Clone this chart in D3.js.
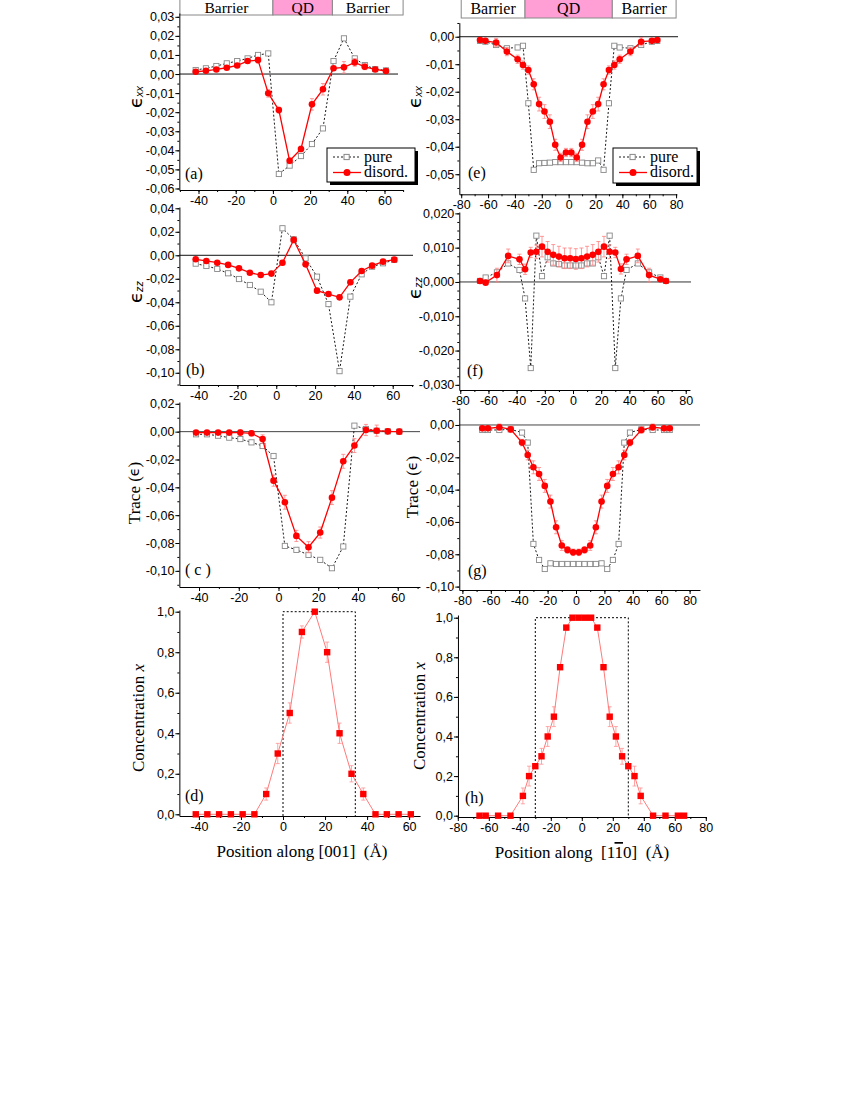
<!DOCTYPE html>
<html><head><meta charset="utf-8">
<script src="https://cdn.jsdelivr.net/npm/d3@7"></script>
<style>body{margin:0;background:#fff} svg{display:block}</style>
</head><body><svg id="c" width="850" height="1100"></svg>
<script>
// ---------- DATA ----------
const pos001 = [-41.5,-36,-30.4,-24.8,-19.2,-13.6,-8,-2.5,3.2,9,15.1,21,26.9,32.6,38.2,44,49.4,55,60.8];
const pos110 = [-66,-62,-54,-46,-38,-34,-30,-26,-22,-18,-14,-10,-6,-2,2,6,10,14,18,22,26,30,34,38,46,54,62,66];

// (a) eps_xx along [001]
const exxPure001 = [0.0021,0.003,0.0042,0.0056,0.0068,0.0082,0.010,0.0108,-0.0524,-0.048,-0.043,-0.0367,-0.0285,0.0068,0.0187,0.0082,0.0047,0.0026,0.0019];
const exxDis001  = [0.0012,0.0017,0.0024,0.0033,0.0045,0.0068,0.0073,-0.0101,-0.0189,-0.0455,-0.0393,-0.0159,-0.008,0.003,0.0035,0.0061,0.0038,0.0024,0.0016];
const exxErr001  = [0.0005,0.0005,0.0005,0.0008,0.0008,0.001,0.0015,0.002,0.0015,0.0015,0.0015,0.003,0.003,0.001,0.003,0.002,0.0015,0.001,0.0008];
// (b) eps_zz along [001]
const ezzPure001 = [-0.0071,-0.0091,-0.0116,-0.0153,-0.0202,-0.0253,-0.031,-0.04,0.023,0.0136,-0.0026,-0.0182,-0.0415,-0.0986,-0.0352,-0.0162,-0.0097,-0.0068,-0.004];
const ezzDis001  = [-0.0034,-0.0048,-0.0063,-0.0082,-0.0111,-0.0148,-0.0168,-0.0156,-0.0063,0.0131,-0.0077,-0.0301,-0.033,-0.0358,-0.023,-0.0134,-0.0088,-0.0054,-0.0037];
const ezzErr001  = [0.001,0.001,0.001,0.001,0.001,0.001,0.0015,0.002,0.002,0.002,0.002,0.002,0.002,0.002,0.002,0.0015,0.001,0.001,0.001];
// (c) trace along [001]
const trPure001 = [-0.0019,-0.0019,-0.0029,-0.0043,-0.0053,-0.0077,-0.0103,-0.0175,-0.0821,-0.0849,-0.0885,-0.0921,-0.0981,-0.0825,0.0043,0.0019,0.0007,0.0002,0];
const trDis001  = [-0.0007,-0.0007,-0.0007,-0.0007,-0.0007,-0.0012,-0.0053,-0.0352,-0.0507,-0.0749,-0.083,-0.0725,-0.0474,-0.0213,-0.01,0.0012,0.0007,0.0002,0];
const trErr001  = [0.001,0.001,0.001,0.001,0.002,0.002,0.003,0.004,0.005,0.004,0.004,0.004,0.005,0.005,0.005,0.004,0.004,0.002,0.002];
// (d) concentration along [001]
const conc001    = [0,0,0,0,0,0,0.1,0.3,0.5,0.9,1.0,0.8,0.4,0.2,0.1,0,0,0,0];
const concErr001 = [0,0,0,0,0,0,0.03,0.05,0.05,0.03,0,0.05,0.05,0.04,0.03,0,0,0,0];
const qd001 = [0, 34.4];

// (e) eps_xx along [1-10]
const exxPure110 = [-0.0015,-0.0018,-0.003,-0.0042,-0.0039,-0.0033,-0.0242,-0.0484,-0.046,-0.0459,-0.0458,-0.0456,-0.0456,-0.0456,-0.0456,-0.0456,-0.0458,-0.046,-0.046,-0.045,-0.0484,-0.0242,-0.0033,-0.0039,-0.0042,-0.003,-0.0018,-0.0015];
const exxDis110  = [-0.0012,-0.0015,-0.0021,-0.0054,-0.0082,-0.0103,-0.0121,-0.0173,-0.0245,-0.0272,-0.0309,-0.0393,-0.0439,-0.0421,-0.0421,-0.0439,-0.0393,-0.0309,-0.0272,-0.0245,-0.0173,-0.0121,-0.0103,-0.0082,-0.0054,-0.0018,-0.0015,-0.0012];
const exxErr110  = [0.0005,0.0005,0.0015,0.0015,0.0015,0.0015,0.0015,0.002,0.0025,0.0025,0.0025,0.002,0.0015,0.0015,0.0015,0.0015,0.002,0.0025,0.0025,0.0025,0.002,0.0015,0.0015,0.0015,0.0015,0.0015,0.0005,0.0005];
// (f) eps_zz along [1-10]
const ezzPure110 = [0.0003,0.0013,0.0028,0.0054,0.0035,-0.0048,-0.0251,0.0135,0.0017,0.0072,0.0054,0.0052,0.0048,0.0048,0.0048,0.0048,0.0054,0.0054,0.0072,0.0017,0.0135,-0.0251,-0.0048,0.0035,0.0054,0.0028,0.0013,0.0003];
const ezzDis110  = [0.0003,-0.0002,0.002,0.0076,0.0066,0.0037,0.0086,0.0088,0.0103,0.0088,0.0079,0.0074,0.0069,0.0069,0.0067,0.0069,0.0074,0.0079,0.0088,0.0103,0.0088,0.0086,0.0038,0.0066,0.0076,0.002,0.0008,0.0003];
const ezzErr110  = [0.0005,0.0005,0.002,0.002,0.0015,0.0015,0.0015,0.002,0.003,0.003,0.003,0.003,0.003,0.003,0.003,0.003,0.003,0.003,0.003,0.003,0.002,0.0015,0.0015,0.0015,0.002,0.002,0.0005,0.0005];
// (g) trace along [1-10]
const trPure110 = [-0.0031,-0.0031,-0.0031,-0.0027,-0.0047,-0.0109,-0.0736,-0.0835,-0.0891,-0.0856,-0.086,-0.086,-0.086,-0.086,-0.086,-0.086,-0.086,-0.086,-0.0856,-0.0891,-0.0835,-0.0736,-0.0109,-0.0047,-0.0027,-0.0031,-0.0031,-0.0031];
const trDis110  = [-0.0021,-0.0021,-0.0014,-0.0027,-0.0109,-0.0186,-0.0262,-0.0303,-0.0377,-0.0474,-0.0633,-0.0746,-0.0773,-0.0788,-0.0788,-0.0773,-0.0746,-0.0633,-0.0474,-0.0377,-0.0303,-0.0262,-0.0186,-0.0109,-0.0031,-0.0014,-0.0021,-0.0021];
const trErr110  = [0.001,0.001,0.002,0.002,0.002,0.003,0.004,0.004,0.004,0.004,0.004,0.003,0.002,0.002,0.002,0.002,0.003,0.004,0.004,0.004,0.004,0.004,0.003,0.002,0.002,0.002,0.001,0.001];
// (h) concentration along [1-10]
const conc110    = [0,0,0,0,0.1,0.2,0.25,0.3,0.4,0.5,0.75,0.95,1,1,1,1,0.95,0.75,0.5,0.4,0.3,0.25,0.2,0.1,0,0,0,0];
const concErr110 = [0,0,0,0,0.04,0.05,0,0.04,0.05,0.05,0,0,0,0,0,0,0,0,0.05,0.05,0.04,0,0.05,0.04,0,0,0,0];
const qd110 = [-30, 30];

// ticks
const xTicks001 = [-40,-20,0,20,40,60];
const xTicks110 = [-80,-60,-40,-20,0,20,40,60,80];
const yTicksA = [0.03,0.02,0.01,0,-0.01,-0.02,-0.03,-0.04,-0.05,-0.06];
const yTicksB = [0.04,0.02,0,-0.02,-0.04,-0.06,-0.08,-0.10];
const yTicksC = [0.02,0,-0.02,-0.04,-0.06,-0.08,-0.10];
const yTicksD = [1.0,0.8,0.6,0.4,0.2,0.0];
const yTicksE = [0,-0.01,-0.02,-0.03,-0.04,-0.05];
const yTicksF = [0.02,0.01,0,-0.01,-0.02,-0.03];
const yTicksG = [0,-0.02,-0.04,-0.06,-0.08,-0.10];
const yTicksH = [1.0,0.8,0.6,0.4,0.2,0.0];

const headerLabels = ['Barrier','QD','Barrier'];
const headerA = [-50, 0, 32, 70];
const headerE = [-80, -32.5, 32.5, 80];
const legendLabels = ['pure','disord.'];

// ---------- DRAW ----------
const svg = d3.select('#c');
svg.append('rect').attr('width',850).attr('height',1100).attr('fill','#fff');
const SANS = "'Liberation Sans', Arial, sans-serif";
const SERIF = "'Liberation Serif', 'Times New Roman', serif";
const fmtX = d => (d < 0 ? '-' : '') + Math.abs(d);
const fmtY = n => d => (d < 0 ? '-' : '') + Math.abs(d).toFixed(n).replace('.', ',');
const steps = (a, b, s) => { const n = Math.round((b - a) / s); return d3.range(n + 1).map(i => a + i * s); };

function drawPanel(p) {
  const g = svg.append('g');
  const x = d3.scaleLinear().domain(p.xDom).range(p.xDom.map(d => p.x0 + p.k * d));
  const y = d3.scaleLinear().domain(p.yDom).range(p.yRange);
  const [xl, xr] = x.range();
  const yb = p.yRange[0], yt = p.yRange[1];

  // header
  if (p.header) {
    const h = p.header;
    for (let i = 0; i < 3; i++) {
      g.append('rect').attr('x', x(h.bounds[i])).attr('y', -2)
        .attr('width', x(h.bounds[i+1]) - x(h.bounds[i])).attr('height', h.h + 2)
        .attr('fill', i === 1 ? '#ff9fd6' : '#fff').attr('stroke', '#888').attr('stroke-width', 1);
      g.append('text').attr('x', (x(h.bounds[i]) + x(h.bounds[i+1])) / 2).attr('y', h.base)
        .attr('text-anchor', 'middle').attr('font-family', SERIF).attr('font-size', h.fs)
        .text(headerLabels[i]);
    }
  }

  // zero line
  if (p.zeroEnd) g.append('line').attr('x1', xl).attr('x2', p.zeroEnd).attr('y1', y(0)).attr('y2', y(0))
    .attr('stroke', p.zeroColor || '#111').attr('stroke-width', 1);

  // axes
  const ax = g.append('g').attr('transform', `translate(0,${yb})`)
    .call(d3.axisBottom(x).tickValues(p.xTicks).tickSize(4).tickSizeOuter(0).tickPadding(2).tickFormat(fmtX));
  ax.append('g').call(d3.axisBottom(x).tickValues(steps(p.xMinor[0], p.xMinor[1], p.xMinor[2])).tickSize(2).tickFormat(''))
    .select('.domain').remove();
  const ay = g.append('g').attr('transform', `translate(${xl},0)`)
    .call(d3.axisLeft(y).tickValues(p.yTicks).tickSize(4).tickSizeOuter(0).tickPadding(1).tickFormat(fmtY(p.yDig)));
  ay.append('g').call(d3.axisLeft(y).tickValues(steps(p.yMinor[0], p.yMinor[1], p.yMinor[2])).tickSize(2).tickFormat(''))
    .select('.domain').remove();
  [ax, ay].forEach(a => {
    a.attr('font-family', SANS).attr('font-size', 12.5);
    a.selectAll('line, path').attr('stroke', '#000');
    a.selectAll('text').attr('fill', '#000');
  });

  // y title
  const tt = g.append('text').attr('transform', `translate(${p.yTitle.x},${p.yTitle.y}) rotate(-90)`)
    .attr('text-anchor', 'middle').attr('font-family', SERIF).attr('font-size', 17).attr('dominant-baseline', 'central');
  if (p.yTitle.kind === 'eps') {
    tt.append('tspan').attr('font-family', "'DejaVu Sans', sans-serif").attr('font-size', 18).text('\u03F5');
    tt.append('tspan').attr('font-family', SANS).attr('font-style', 'italic').attr('font-size', 11).attr('dy', 4).text(p.yTitle.sub);
  } else if (p.yTitle.kind === 'trace') {
    tt.append('tspan').text('Trace (');
    tt.append('tspan').attr('font-family', "'DejaVu Sans', sans-serif").attr('font-size', 14).text('\u03F5');
    tt.append('tspan').text(')');
  } else {
    tt.append('tspan').text('Concentration ');
    tt.append('tspan').attr('font-style', 'italic').text('x');
  }

  // panel letter
  g.append('text').attr('x', p.letter.x).attr('y', p.letter.y).attr('font-family', SERIF).attr('font-size', 16).text(p.letter.t);

  const pts = p.pos.map((d, i) => i);
  if (p.kind === 'strain') {
    // pure
    g.append('path').attr('d', d3.line().x(i => x(p.pos[i])).y(i => y(p.pure[i]))(pts))
      .attr('fill', 'none').attr('stroke', '#000').attr('stroke-width', 0.9).attr('stroke-dasharray', '2,2');
    g.selectAll(null).data(pts).enter().append('rect')
      .attr('x', i => x(p.pos[i]) - 2.6).attr('y', i => y(p.pure[i]) - 2.6).attr('width', 5.2).attr('height', 5.2)
      .attr('fill', '#fff').attr('stroke', '#888').attr('stroke-width', 0.9);
    // error bars
    const eb = g.append('g').attr('stroke', '#ff7f7f').attr('stroke-width', 0.8);
    pts.forEach(i => {
      const cx = x(p.pos[i]), y1 = y(p.dis[i] + p.err[i]), y2 = y(p.dis[i] - p.err[i]);
      eb.append('line').attr('x1', cx).attr('x2', cx).attr('y1', y1).attr('y2', y2);
      eb.append('line').attr('x1', cx - 2).attr('x2', cx + 2).attr('y1', y1).attr('y2', y1);
      eb.append('line').attr('x1', cx - 2).attr('x2', cx + 2).attr('y1', y2).attr('y2', y2);
    });
    g.append('path').attr('d', d3.line().x(i => x(p.pos[i])).y(i => y(p.dis[i]))(pts))
      .attr('fill', 'none').attr('stroke', '#ff0000').attr('stroke-width', 1.3);
    g.selectAll(null).data(pts).enter().append('circle')
      .attr('cx', i => x(p.pos[i])).attr('cy', i => y(p.dis[i])).attr('r', 3.3).attr('fill', '#ff0000');
  } else {
    // QD box
    g.append('path').attr('d', `M${x(p.qd[0])},${yb}V${y(1.0)}H${x(p.qd[1])}V${yb}`)
      .attr('fill', 'none').attr('stroke', '#000').attr('stroke-width', 1).attr('stroke-dasharray', '2,2');
    const eb = g.append('g').attr('stroke', '#ff9090').attr('stroke-width', 0.8);
    pts.forEach(i => {
      if (!p.err[i]) return;
      const cx = x(p.pos[i]), y1 = y(p.conc[i] + p.err[i]), y2 = y(p.conc[i] - p.err[i]);
      eb.append('line').attr('x1', cx).attr('x2', cx).attr('y1', y1).attr('y2', y2);
      eb.append('line').attr('x1', cx - 2).attr('x2', cx + 2).attr('y1', y1).attr('y2', y1);
      eb.append('line').attr('x1', cx - 2).attr('x2', cx + 2).attr('y1', y2).attr('y2', y2);
    });
    g.append('path').attr('d', d3.line().x(i => x(p.pos[i])).y(i => y(p.conc[i]))(pts))
      .attr('fill', 'none').attr('stroke', '#ff7a7a').attr('stroke-width', 1);
    g.selectAll(null).data(pts).enter().append('rect')
      .attr('x', i => x(p.pos[i]) - 3.2).attr('y', i => y(p.conc[i]) - 3.2).attr('width', 6.4).attr('height', 6.4)
      .attr('fill', '#ff0000');
    // x title
    const xt = g.append('text').attr('x', p.xTitle.x).attr('y', p.xTitle.y).attr('text-anchor', 'middle')
      .attr('font-family', SERIF).attr('font-size', 17).attr('xml:space', 'preserve');
    if (p.xTitle.kind === '001') {
      xt.text('Position along [001]  (\u00C5)');
    } else {
      xt.append('tspan').text('Position along  [1');
      xt.append('tspan').attr('text-decoration', 'overline').style('text-decoration', 'overline').text('1');
      xt.append('tspan').text('0]  (\u00C5)');
    }
  }

  // legend
  if (p.legend) {
    const L = p.legend;
    g.append('rect').attr('x', L.x + 3).attr('y', L.y + 3).attr('width', L.w).attr('height', L.h).attr('fill', '#000');
    g.append('rect').attr('x', L.x).attr('y', L.y).attr('width', L.w).attr('height', L.h).attr('fill', '#fff').attr('stroke', '#000').attr('stroke-width', 1);
    const r1 = L.y + 9, r2 = L.y + 24.5;
    g.append('line').attr('x1', L.x + 6).attr('x2', L.x + 34).attr('y1', r1).attr('y2', r1)
      .attr('stroke', '#000').attr('stroke-dasharray', '2,2').attr('stroke-width', 0.9);
    g.append('rect').attr('x', L.x + 17).attr('y', r1 - 2.6).attr('width', 5.2).attr('height', 5.2).attr('fill', '#fff').attr('stroke', '#888');
    g.append('line').attr('x1', L.x + 6).attr('x2', L.x + 34).attr('y1', r2).attr('y2', r2).attr('stroke', '#f00').attr('stroke-width', 1.3);
    g.append('circle').attr('cx', L.x + 20).attr('cy', r2).attr('r', 3.5).attr('fill', '#f00');
    [r1, r2].forEach((ry, i) => g.append('text').attr('x', L.x + 37).attr('y', ry + 4.5)
      .attr('font-family', SERIF).attr('font-size', 16).text(legendLabels[i]));
  }
}

const panels = [
  { kind:'strain', pos:pos001, pure:exxPure001, dis:exxDis001, err:exxErr001,
    x0:272.9, k:1.86, xDom:[-50.3,70], xTicks:xTicks001, xMinor:[-50,70,10],
    yDom:[-0.0608,0.032], yRange:[190,13], yTicks:yTicksA, yDig:2, yMinor:[-0.06,0.03,0.005],
    zeroEnd:398, yTitle:{kind:'eps', sub:'xx', x:135, y:97}, letter:{t:'(a)', x:185, y:179},
    header:{bounds:headerA, h:15, base:12.5, fs:15.5}, legend:{x:327, y:148, w:88, h:34} },
  { kind:'strain', pos:pos001, pure:ezzPure001, dis:ezzDis001, err:ezzErr001,
    x0:276.25, k:1.941, xDom:[-49.9,70.5], xTicks:xTicks001, xMinor:[-40,70,10],
    yDom:[-0.1104,0.0411], yRange:[385,207], yTicks:yTicksB, yDig:2, yMinor:[-0.11,0.04,0.01],
    zeroEnd:413, yTitle:{kind:'eps', sub:'zz', x:135, y:292}, letter:{t:'(b)', x:186, y:375} },
  { kind:'strain', pos:pos001, pure:trPure001, dis:trDis001, err:trErr001,
    x0:278.5, k:1.987, xDom:[-49.9,71.2], xTicks:xTicks001, xMinor:[-40,70,10],
    yDom:[-0.1116,0.0213], yRange:[587,402], yTicks:yTicksC, yDig:2, yMinor:[-0.11,0.02,0.01],
    zeroEnd:420, zeroColor:'#444', yTitle:{kind:'trace', x:134, y:493}, letter:{t:'( c )', x:185, y:575} },
  { kind:'conc', pos:pos001, conc:conc001, err:concErr001, qd:qd001,
    x0:283, k:2.102, xDom:[-49.3,65.2], xTicks:xTicks001, xMinor:[-40,60,10],
    yDom:[-0.0084,1.0084], yRange:[816,610], yTicks:yTicksD, yDig:1, yMinor:[0,1,0.1],
    yTitle:{kind:'conc', x:138, y:718}, letter:{t:'(d)', x:185, y:801},
    xTitle:{kind:'001', x:302, y:857} },
  { kind:'strain', pos:pos110, pure:exxPure110, dis:exxDis110, err:exxErr110,
    x0:568.65, k:1.343, xDom:[-81.4,80.5], xTicks:xTicks110, xMinor:[-80,80,10],
    yDom:[-0.0573,0.0051], yRange:[194.3,22.7], yTicks:yTicksE, yDig:2, yMinor:[-0.055,0.005,0.005],
    zeroEnd:678, yTitle:{kind:'eps', sub:'xx', x:414, y:97}, letter:{t:'(e)', x:468, y:178},
    header:{bounds:headerE, h:18, base:14, fs:16}, legend:{x:613, y:148, w:84, h:35} },
  { kind:'strain', pos:pos110, pure:ezzPure110, dis:ezzDis110, err:ezzErr110,
    x0:573, k:1.409, xDom:[-80.7,83], xTicks:xTicks110, xMinor:[-80,80,10],
    yDom:[-0.0315,0.0204], yRange:[390,212], yTicks:yTicksF, yDig:3, yMinor:[-0.03,0.02,0.0025],
    zeroEnd:691, zeroColor:'#333', yTitle:{kind:'eps', sub:'zz', x:414, y:288}, letter:{t:'(f)', x:467, y:376} },
  { kind:'strain', pos:pos110, pure:trPure110, dis:trDis110, err:trErr110,
    x0:576, k:1.42, xDom:[-82.2,87.3], xTicks:xTicks110, xMinor:[-80,80,10],
    yDom:[-0.1021,0.0105], yRange:[590,408], yTicks:yTicksG, yDig:2, yMinor:[-0.1,0.01,0.01],
    zeroEnd:700, zeroColor:'#444', yTitle:{kind:'trace', x:412, y:487}, letter:{t:'(g)', x:468, y:576} },
  { kind:'conc', pos:pos110, conc:conc110, err:concErr110, qd:qd110,
    x0:581.8, k:1.55, xDom:[-79.9,80.1], xTicks:xTicks110, xMinor:[-80,80,10],
    yDom:[-0.0066,1.0136], yRange:[817,615], yTicks:yTicksH, yDig:1, yMinor:[0,1,0.1],
    yTitle:{kind:'conc', x:419, y:716}, letter:{t:'(h)', x:465, y:803},
    xTitle:{kind:'110', x:582, y:858} }
];
panels.forEach(drawPanel);
</script></body></html>
